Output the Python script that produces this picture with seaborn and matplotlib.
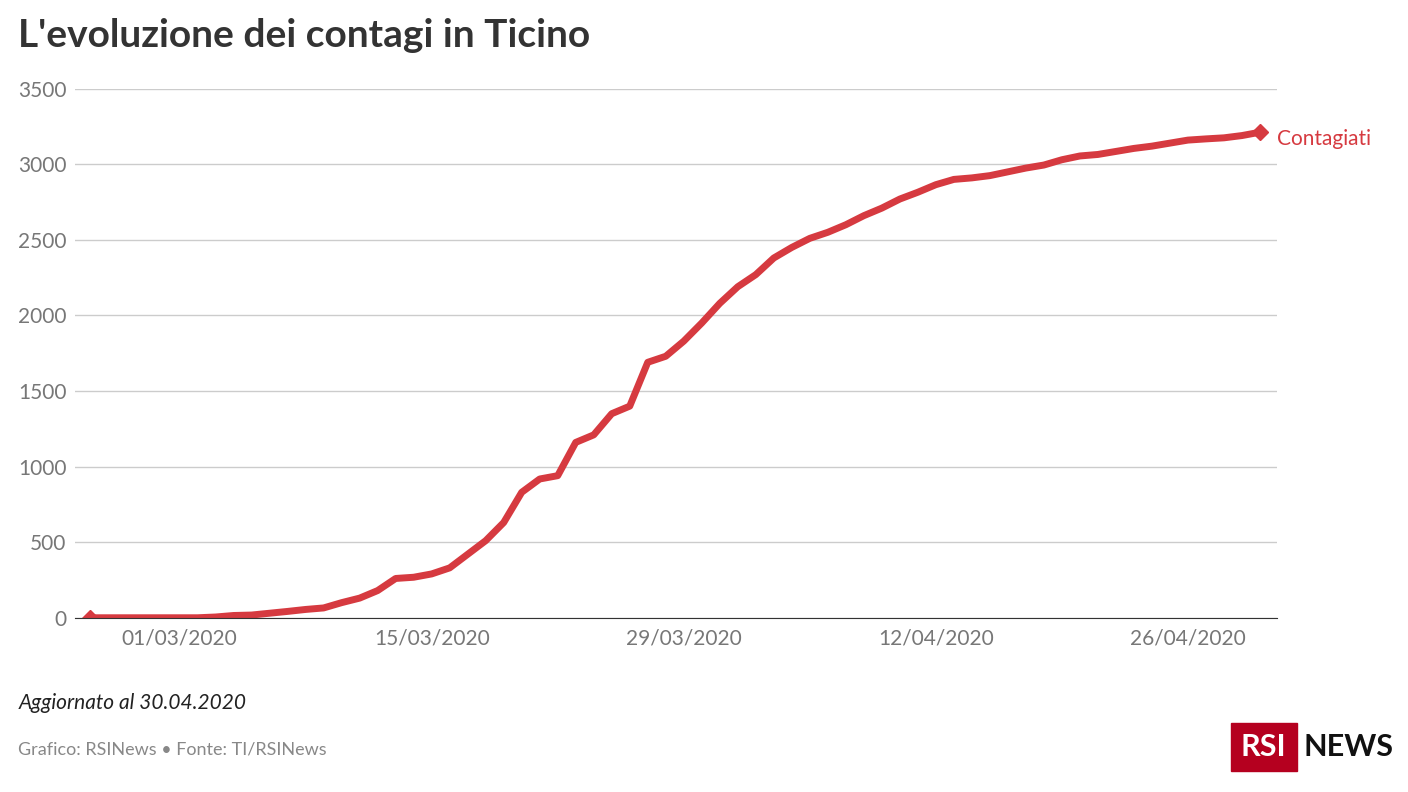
import matplotlib
matplotlib.use("Agg")
import matplotlib.pyplot as plt
import matplotlib.dates as mdates
import seaborn as sns
import pandas as pd
import numpy as np

plt.rcParams["font.family"] = "Lato"
start_date = "2020-02-25"
values = [0,0,0,0,0,0,0,5,15,18,30,42,55,65,100,130,180,260,268,290,330,420,510,630,830,918,940,1160,1210,1350,1400,1690,1730,1830,1950,2080,2190,2270,2380,2450,2510,2550,2600,2660,2710,2770,2815,2865,2900,2910,2925,2950,2975,2995,3030,3055,3065,3085,3105,3120,3140,3160,3168,3175,3190,3212]
tick_dates = ["2020-03-01","2020-03-15","2020-03-29","2020-04-12","2020-04-26"]
yticks = [0,500,1000,1500,2000,2500,3000,3500]

df = pd.DataFrame({"date": pd.date_range(start_date, periods=len(values)), "val": values})
red = "#d63a40"
fig = plt.figure(figsize=(14.08,7.92), dpi=100)
ax = fig.add_axes([0.053,0.22,0.854,0.668])
sns.lineplot(data=df, x="date", y="val", ax=ax, color=red, lw=5, solid_capstyle="round")
ax.plot(df.date.iloc[[0,-1]], df.val.iloc[[0,-1]], "D", color=red, ms=8)
ax.set_xlim(df.date.iloc[0]-pd.Timedelta(days=0.83), df.date.iloc[0]+pd.Timedelta(days=65.95))
ax.set_ylim(0,3500)
ax.set_yticks(yticks)
ax.set_xticks(pd.to_datetime(tick_dates))
ax.xaxis.set_major_formatter(mdates.DateFormatter("%d/%m/%Y"))
ax.set_xlabel(""); ax.set_ylabel("")
for s in ["top","right","left"]: ax.spines[s].set_visible(False)
ax.spines["bottom"].set_color("#333333")
ax.grid(axis="y", color="#cccccc", lw=1)
ax.set_axisbelow(True)
ax.tick_params(axis="both", length=0, labelsize=15, labelcolor="#777777", pad=8)
ax.tick_params(axis="y", pad=6)
ax.annotate("Contagiati", (df.date.iloc[-1], values[-1]), xytext=(12,-5), textcoords="offset points",
            color=red, fontsize=15, va="center", annotation_clip=False)
fig.text(0.013,0.955,"L'evoluzione dei contagi in Ticino", fontsize=28, weight="bold", color="#333333", va="center")
fig.text(0.013,0.112,"Aggiornato al 30.04.2020", fontsize=15, style="italic", color="#222222", va="center")
fig.text(0.013,0.054,"Grafico: RSINews • Fonte: TI/RSINews", fontsize=13, color="#888888", va="center")
fig.patches.append(plt.Rectangle((0.874,0.027),0.047,0.06, transform=fig.transFigure, color="#b5001f"))
fig.text(0.8975,0.057,"RSI", fontsize=22, weight="bold", color="white", ha="center", va="center")
fig.text(0.926,0.057,"NEWS", fontsize=22, weight="bold", color="#111111", ha="left", va="center")
fig.savefig("out.png", dpi=100)
